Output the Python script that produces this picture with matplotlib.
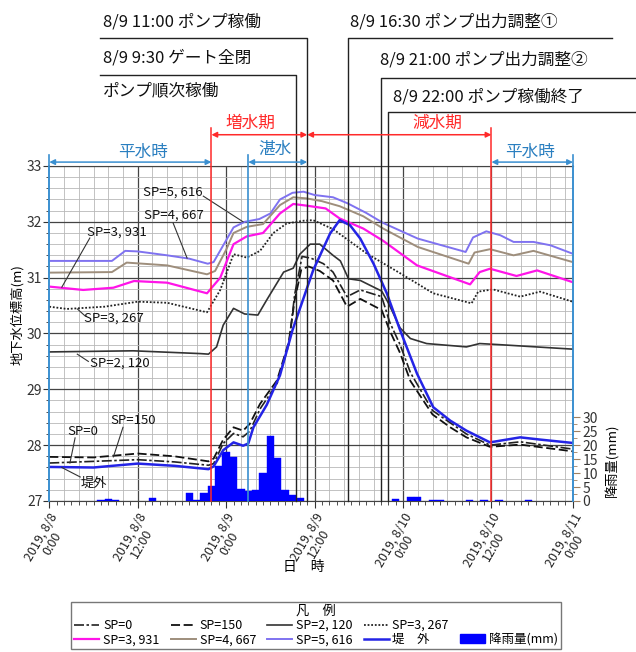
import numpy as np
import matplotlib
matplotlib.use("Agg")
import matplotlib.pyplot as plt
from matplotlib.ticker import MultipleLocator, FixedLocator

plt.rcParams['font.family'] = ['Noto Sans CJK JP', 'DejaVu Sans']

# ---------------------------------------------------------------
# データ（経過時間 h は 2019/8/8 0:00 起点）
# ---------------------------------------------------------------
t_5616 = [0, 8.5, 10.3, 12, 16, 19, 21.5, 22.3, 24, 25, 26.5, 28.5, 30, 31.3, 33, 34.5, 36, 38.5,
          40.5, 43, 45.3, 50, 56.5, 57.5, 59.3, 61.2, 63, 65.7, 68, 71]
v_5616 = [31.30, 31.30, 31.48, 31.47, 31.40, 31.34, 31.25, 31.28, 31.67, 31.90, 32.00, 32.05, 32.15,
          32.40, 32.52, 32.54, 32.48, 32.44, 32.33, 32.16, 31.98, 31.70, 31.46, 31.72, 31.83, 31.76,
          31.64, 31.64, 31.58, 31.43]

t_4667 = [0, 8.5, 10.5, 16, 21.4, 22.5, 24, 25, 26.8, 29, 31.3, 33.1, 34.9, 37, 39.4, 42.6, 45.3,
          50, 56.9, 57.7, 59.8, 63, 65.7, 71]
v_4667 = [31.09, 31.10, 31.27, 31.22, 31.06, 31.12, 31.50, 31.80, 31.91, 31.96, 32.30, 32.44, 32.42,
          32.37, 32.28, 32.10, 31.88, 31.55, 31.25, 31.45, 31.51, 31.40, 31.48, 31.28]

t_3931 = [0, 4.6, 8.7, 11.5, 16, 21.4, 23.2, 25, 26.8, 29, 31.3, 33.1, 34.9, 37.5, 39.4, 42.6, 45.3,
          49.9, 57.1, 58.4, 59.8, 63.4, 66.2, 71]
v_3931 = [30.84, 30.78, 30.82, 30.94, 30.91, 30.72, 31.00, 31.60, 31.74, 31.80, 32.15, 32.32, 32.29,
          32.24, 32.06, 31.88, 31.66, 31.22, 30.88, 31.10, 31.16, 31.03, 31.13, 30.92]

t_3267 = [0, 2.4, 7.5, 12, 16, 21.4, 23.2, 25, 26.8, 28.6, 30.4, 32.2, 34.5, 35.8, 38.5, 43.1, 47.6,
          52.1, 57.3, 58.2, 60.2, 63.9, 66.6, 71]
v_3267 = [30.48, 30.44, 30.48, 30.57, 30.55, 30.38, 30.78, 31.42, 31.36, 31.48, 31.80, 31.97, 32.02,
          32.03, 31.87, 31.43, 31.08, 30.72, 30.54, 30.75, 30.79, 30.66, 30.75, 30.57]

t_2120 = [0, 11.4, 20.5, 21.6, 22.7, 23.6, 25, 26.5, 28.3, 29.5, 31.8, 33.1, 34, 35.4, 36.7, 38.5,
          39.5, 40.6, 42.2, 45.1, 46, 47.6, 49, 51.2, 56.6, 58.4, 61.1, 71]
v_2120 = [29.67, 29.69, 29.64, 29.63, 29.76, 30.15, 30.45, 30.35, 30.33, 30.60, 31.10, 31.17, 31.42,
          31.60, 31.60, 31.40, 31.30, 30.98, 30.95, 30.76, 30.55, 30.10, 29.91, 29.82, 29.76, 29.82,
          29.80, 29.72]

t_150 = [0, 6, 12, 17, 21.6, 22.3, 23.6, 25, 26.3, 27.2, 28.6, 30.9, 32.5, 33.3, 34.2, 35.2, 36.7,
         38.5, 40.4, 42.2, 45.1, 46.2, 47.6, 49, 52, 54.4, 56.6, 59.8, 63.9, 71]
v_150 = [27.79, 27.78, 27.85, 27.80, 27.71, 27.76, 28.10, 28.32, 28.26, 28.38, 28.74, 29.16, 29.85,
         30.60, 31.15, 31.20, 31.12, 30.95, 30.48, 30.62, 30.42, 30.05, 29.65, 29.15, 28.55, 28.32,
         28.14, 27.97, 28.01, 27.89]

t_0 = [0, 12, 17, 21.6, 22.3, 23.6, 25, 26.3, 27.2, 28.6, 30.9, 32.5, 33.3, 34.3, 35.5, 37.2, 38.5,
       40.4, 42.2, 45.1, 46.2, 47.6, 49, 52, 56.6, 59.8, 63.9, 71]
v_0 = [27.68, 27.74, 27.70, 27.64, 27.67, 28.03, 28.21, 28.15, 28.25, 28.65, 29.10, 29.80, 30.70,
       31.38, 31.35, 31.25, 31.10, 30.66, 30.78, 30.66, 30.20, 29.80, 29.30, 28.62, 28.20, 28.00,
       28.06, 27.93]

t_out = [0, 6, 12, 17, 21.6, 22.3, 23.6, 25, 26.3, 27, 27.7, 29.5, 31.3, 33, 35.8, 38.1, 39.4, 40.8,
         42.2, 44, 45.8, 47.6, 49.9, 52.1, 54.4, 56.6, 59.8, 63.9, 66.6, 71]
v_out = [27.61, 27.60, 27.67, 27.63, 27.57, 27.62, 27.91, 28.05, 27.99, 28.03, 28.32, 28.72, 29.25,
         30.06, 31.13, 31.79, 32.03, 31.94, 31.70, 31.25, 30.72, 30.06, 29.28, 28.68, 28.44, 28.26,
         28.05, 28.14, 28.10, 28.04]

# 降雨量（時間雨量 mm）
rain_hour = [7, 8, 9, 14, 19, 20, 21, 22, 23, 24, 25, 26, 27, 28, 29, 30, 31, 32, 33, 34,
             47, 49, 50, 52, 53, 57, 59, 61, 65]
rain_mm = [0.3, 0.6, 0.3, 0.9, 3.0, 0.3, 3.0, 5.2, 12.5, 17.4, 15.8, 4.4, 3.7, 4.0, 9.9, 23.4,
           15.3, 4.0, 2.3, 1.0, 0.6, 1.6, 1.6, 0.5, 0.5, 0.3, 0.4, 0.4, 0.3]

x_ticks = [0, 12, 24, 36, 48, 60, 71.06]
x_labels = ["2019, 8/8\n0:00", "2019, 8/8\n12:00", "2019, 8/9\n0:00", "2019, 8/9\n12:00",
            "2019, 8/10\n0:00", "2019, 8/10\n12:00", "2019, 8/11\n0:00"]

# イベント時刻
t_tansui = 27      # 湛水開始
t_zou = 22         # 増水期開始
t_gen_end = 60     # 減水期終了
t_gate = 33.5      # 8/9 9:30
t_pump = 35        # 8/9 11:00
t_adj1 = 40.5      # 8/9 16:30
t_adj2 = 45        # 8/9 21:00
t_end = 46         # 8/9 22:00
X_MAX = 71.06

# ---------------------------------------------------------------
fig = plt.figure(figsize=(6.36, 6.52), dpi=100)
pos = [0.0775, 0.2316, 0.8234, 0.5138]
ax = fig.add_axes(pos)

# グリッド
ax.yaxis.set_major_locator(MultipleLocator(1))
ax.yaxis.set_minor_locator(MultipleLocator(0.2))
ax.xaxis.set_major_locator(FixedLocator(x_ticks))
ax.xaxis.set_minor_locator(MultipleLocator(1))
ax.grid(which='major', axis='y', color='#444444', lw=0.9)
ax.grid(which='minor', axis='y', color='#b8b8b8', lw=0.6)
for xv in np.arange(2, 71, 2):
    ax.axvline(xv, color='#b8b8b8' if xv % 12 else '#444444', lw=0.6 if xv % 12 else 0.9, zorder=0.5)
ax.set_axisbelow(True)

ax.set_xticklabels(x_labels, rotation=60, ha='right', va='top', rotation_mode='anchor',
                   multialignment='center', fontsize=9, color='#222222', linespacing=1.0)
ax.tick_params(axis='x', which='major', length=5, direction='out', color='#333333', pad=2)
ax.tick_params(axis='x', which='minor', length=3, direction='out', color='#333333')
ax.tick_params(axis='y', which='major', length=4, direction='out', labelsize=10, color='#333333',
               labelcolor='#333333', pad=1)
ax.tick_params(axis='y', which='minor', length=2.5, direction='out', color='#333333')
for s in ['top', 'bottom']:
    ax.spines[s].set_color('#444444')
ax.spines['left'].set_color('#3a8fd0')
ax.spines['left'].set_linewidth(1.2)
ax.spines['right'].set_visible(False)

# 降雨量（右軸）
ax_r = ax.twinx()
ax_r.bar(rain_hour, rain_mm, width=1.0, color='#0000ff', edgecolor='#0000ff', lw=0.3, zorder=2)
ax_r.set_yticks(range(0, 31, 5))
ax_r.yaxis.set_minor_locator(FixedLocator(np.arange(0, 30.1, 2.5)))
ax_r.tick_params(axis='y', which='major', length=5, labelsize=10, color='#a08060',
                 labelcolor='#333333', pad=2)
ax_r.tick_params(axis='y', which='minor', length=3, color='#a08060')
for s in ['top', 'bottom', 'left']:
    ax_r.spines[s].set_visible(False)
ax_r.spines['right'].set_color('#3a8fd0')
ax_r.spines['right'].set_linewidth(1.2)

# 水位線（上層）
ax_t = fig.add_axes(pos, sharex=ax, sharey=ax)
ax_t.axis('off')
ax_t.plot(t_5616, v_5616, color='#7f72f0', lw=1.4, label='SP=5, 616')
ax_t.plot(t_4667, v_4667, color='#9e8e7c', lw=1.4, label='SP=4, 667')
ax_t.plot(t_3931, v_3931, color='#ff14e8', lw=1.6, label='SP=3, 931')
ax_t.plot(t_3267, v_3267, color='#222222', lw=1.3, ls=(0, (1, 1)), label='SP=3, 267')
ax_t.plot(t_2120, v_2120, color='#333333', lw=1.2, ls='-', label='SP=2, 120')
ax_t.plot(t_150, v_150, color='#111111', lw=1.3, ls=(0, (5, 2)), label='SP=150')
ax_t.plot(t_0, v_0, color='#222222', lw=1.2, ls=(0, (6, 1.5, 1.5, 1.5)), label='SP=0')
ax_t.plot(t_out, v_out, color='#2424e6', lw=1.8, label='堤　外')

# 区分線
kw = dict(clip_on=False, zorder=3)
ax_t.plot([t_zou, t_zou], [27, 33.68], color='#ff2a2a', lw=1.1, **kw)
ax_t.plot([t_gen_end, t_gen_end], [27, 33.68], color='#ff2a2a', lw=1.1, **kw)
ax_t.plot([0, 0], [27, 33.2], color='#3a8fd0', lw=1.2, **kw)
ax_t.plot([t_tansui, t_tansui], [27, 33.2], color='#3a8fd0', lw=1.2, **kw)
ax_t.plot([X_MAX, X_MAX], [27, 33.2], color='#3a8fd0', lw=1.2, **kw)

# イベント注記
ax_t.plot([6.9, t_pump, t_pump], [35.29, 35.29, 27], color='#222222', lw=1.0, **kw)
ax_t.plot([6.9, t_gate, t_gate], [34.63, 34.63, 27], color='#222222', lw=1.0, **kw)
ax_t.plot([t_adj1, t_adj1, 76.3], [27, 35.29, 35.29], color='#222222', lw=1.0, **kw)
ax_t.plot([t_adj2, t_adj2, 79.6], [27, 34.58, 34.58], color='#222222', lw=1.0, **kw)
ax_t.plot([t_end, t_end, 79.6], [27, 33.97, 33.97], color='#222222', lw=1.0, **kw)
tkw = dict(fontsize=12, color='#111111', va='center', ha='left')
ax_t.text(7.3, 35.58, '8/9 11:00 ポンプ稼働', **tkw)
ax_t.text(7.3, 34.94, '8/9 9:30 ゲート全閉', **tkw)
ax_t.text(7.3, 34.34, 'ポンプ順次稼働', **tkw)
ax_t.text(40.8, 35.58, '8/9 16:30 ポンプ出力調整①', **tkw)
ax_t.text(44.9, 34.90, '8/9 21:00 ポンプ出力調整②', **tkw)
ax_t.text(46.6, 34.24, '8/9 22:00 ポンプ稼働終了', **tkw)

# 期間の矢印
def arrow(x0, x1, y, color):
    ax_t.annotate('', xy=(x0, y), xytext=(x1, y), annotation_clip=False,
                  arrowprops=dict(arrowstyle='<|-|>', color=color, lw=1.1,
                                  mutation_scale=8, shrinkA=0, shrinkB=0))

arrow(t_zou, t_pump, 33.56, '#ff2a2a')
arrow(t_pump, t_gen_end, 33.56, '#ff2a2a')
arrow(0, t_zou, 33.07, '#3a8fd0')
arrow(t_tansui, t_pump, 33.07, '#3a8fd0')
arrow(t_gen_end, X_MAX, 33.07, '#3a8fd0')
pkw = dict(fontsize=12, ha='center', va='center')
ax_t.text(27.3, 33.77, '増水期', color='#ff2a2a', **pkw)
ax_t.text(52.6, 33.77, '減水期', color='#ff2a2a', **pkw)
ax_t.text(12.7, 33.25, '平水時', color='#2a7fc0', **pkw)
ax_t.text(30.6, 33.30, '湛水', color='#2a7fc0', **pkw)
ax_t.text(65.2, 33.25, '平水時', color='#2a7fc0', **pkw)

# 系列ラベル
def tag(text, tx, ty, lx0, ly0, lx1, ly1):
    ax_t.text(tx, ty, text, fontsize=9.5, ha='center', va='center', color='#111111')
    ax_t.plot([lx0, lx1], [ly0, ly1], color='#333333', lw=0.8)

tag('SP=5, 616', 16.8, 32.53, 20.9, 32.46, 26.3, 32.0)
tag('SP=4, 667', 16.9, 32.12, 16.8, 31.98, 18.7, 31.35)
tag('SP=3, 931', 9.2, 31.82, 5.5, 31.71, 1.7, 30.83)
tag('SP=3, 267', 8.8, 30.28, 4.9, 30.31, 3.8, 30.44)
tag('SP=2, 120', 9.6, 29.47, 5.3, 29.50, 3.8, 29.63)
tag('SP=150', 11.4, 28.45, 10.0, 28.32, 8.7, 27.79)
tag('SP=0', 4.6, 28.25, 3.5, 28.13, 2.8, 27.68)
tag('堤外', 6.0, 27.32, 4.2, 27.43, 1.7, 27.60)

# 範囲は描画の後で固定（注記で自動拡大させない）
ax.set_xlim(0, X_MAX)
ax.set_ylim(27, 33)
ax_r.set_ylim(0, 120)

# 軸ラベル
fig.text(0.027, 0.517, '地下水位標高(m)', rotation=90, ha='center', va='center', fontsize=9.5)
fig.text(0.963, 0.294, '降雨量(mm)', rotation=90, ha='center', va='center', fontsize=9.5)
fig.text(0.478, 0.131, '日　時', ha='center', va='center', fontsize=10)

# 凡例
h = {l.get_label(): l for l in ax_t.get_lines() if not l.get_label().startswith('_')}
bar_h = plt.Rectangle((0, 0), 1, 1, color='#0000ff')
blank = plt.Line2D([], [], color='none')
handles = [h['SP=0'], h['SP=3, 931'], h['SP=150'], h['SP=4, 667'], h['SP=2, 120'],
           h['SP=5, 616'], h['SP=3, 267'], h['堤　外'], blank, bar_h]
labels = ['SP=0', 'SP=3, 931', 'SP=150', 'SP=4, 667', 'SP=2, 120', 'SP=5, 616', 'SP=3, 267',
          '堤　外', '', '降雨量(mm)']
leg = fig.legend(handles, labels, ncol=5, loc='upper center', bbox_to_anchor=(0.497, 0.087),
                 title='凡　例', fontsize=9, title_fontsize=9.5, frameon=True, fancybox=False,
                 edgecolor='#555555', handlelength=2.0, handletextpad=0.3, columnspacing=0.9,
                 borderpad=0.25, labelspacing=0.1)
leg.get_frame().set_linewidth(1.0)

fig.savefig('out.png', dpi=100)
